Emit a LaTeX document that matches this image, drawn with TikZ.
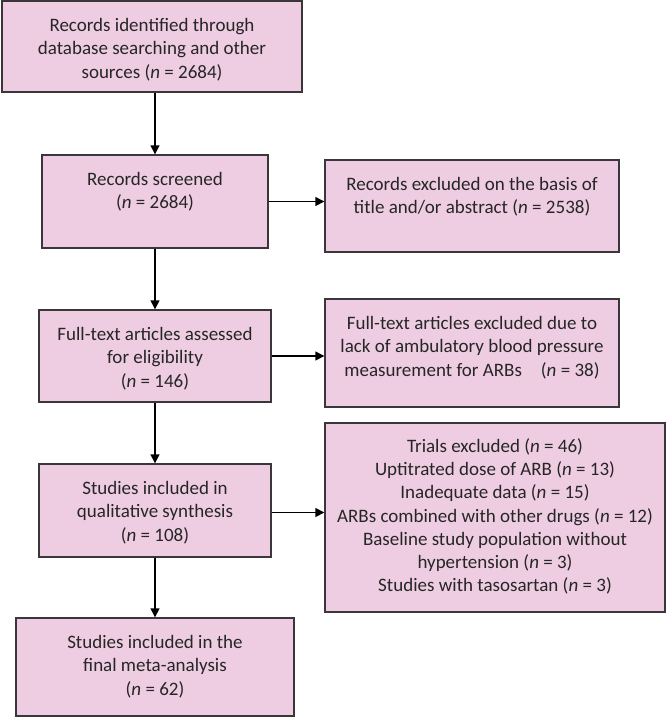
\documentclass[tikz,border=0pt]{standalone}
\usepackage{fontspec}
\setmainfont{Carlito}
\usepackage{tikz}
\usetikzlibrary{arrows.meta,positioning,calc}
\definecolor{boxpink}{RGB}{238,205,226}
\definecolor{boxline}{RGB}{58,54,58}
\tikzset{
  box/.style={draw=boxline,fill=boxpink,line width=1.4pt,inner sep=0pt},
  boxtxt/.style={anchor=north,align=center,inner sep=0pt,font=\fontsize{19}{23.2}\selectfont,text=black!85},
  flow/.style={line width=1.5pt,-{Triangle[length=9pt,width=9pt]}}
}
\newcommand{\nn}{\textit{n}}

\begin{document}
\begin{tikzpicture}[x=1pt,y=1pt]
\useasboundingbox (0,0) rectangle (666,-717);
% left column
\node[box,minimum width=300pt,minimum height=91pt] (ident) at (152,-46.5) {};
\node[box,minimum width=226pt,minimum height=93pt] (screen) at (155,-201.5) {};
\node[box,minimum width=232pt,minimum height=92pt] (full) at (155,-356) {};
\node[box,minimum width=232pt,minimum height=93pt] (qual) at (155,-510.5) {};
\node[box,minimum width=278pt,minimum height=98pt] (meta) at (155,-667) {};
% right column
\node[box,minimum width=294pt,minimum height=92pt] (excl) at (472,-206) {};
\node[box,minimum width=294pt,minimum height=108pt] (fullexcl) at (472,-353) {};
\node[box,minimum width=340pt,minimum height=189pt] (trials) at (495,-517.5) {};
% texts
\node[boxtxt] (ident-t) at ([yshift=-18pt]ident.north) {Records identified through\\database searching and other\\sources (\nn{} = 2684)};
\node[boxtxt] (screen-t) at ([yshift=-18pt]screen.north) {Records screened\\(\nn{} = 2684)};
\node[boxtxt] (full-t) at ([yshift=-18pt]full.north) {Full-text articles assessed\\for eligibility\\(\nn{} = 146)};
\node[boxtxt] (qual-t) at ([yshift=-18pt]qual.north) {Studies included in\\qualitative synthesis\\(\nn{} = 108)};
\node[boxtxt] (meta-t) at ([yshift=-18pt]meta.north) {Studies included in the\\final meta-analysis\\(\nn{} = 62)};
\node[boxtxt] (excl-t) at ([yshift=-18pt]excl.north) {Records excluded on the basis of\\title and/or abstract (\nn{} = 2538)};
\node[boxtxt] (fullexcl-t) at ([yshift=-18pt]fullexcl.north) {Full-text articles excluded due to\\lack of ambulatory blood pressure\\measurement for ARBs\quad(\nn{} = 38)};
\node[boxtxt] (trials-t) at ([yshift=-16pt]trials.north) {Trials excluded (\nn{} = 46)\\Uptitrated dose of ARB (\nn{} = 13)\\Inadequate data (\nn{} = 15)\\ARBs combined with other drugs (\nn{} = 12)\\Baseline study population without\\hypertension (\nn{} = 3)\\Studies with tasosartan (\nn{} = 3)};
% arrows
\draw[flow] (screen.north |- ident.south) -- (screen.north);
\draw[flow] (screen.south) -- (full.north);
\draw[flow] (full.south) -- (qual.north);
\draw[flow] (qual.south) -- (meta.north);
\draw[flow] (screen.east) -- (screen.east -| excl.west);
\draw[flow] (full.east) -- (full.east -| fullexcl.west);
\draw[flow] ([yshift=-2pt]qual.east) -- ([yshift=-2pt]qual.east -| trials.west);
\end{tikzpicture}
\end{document}
